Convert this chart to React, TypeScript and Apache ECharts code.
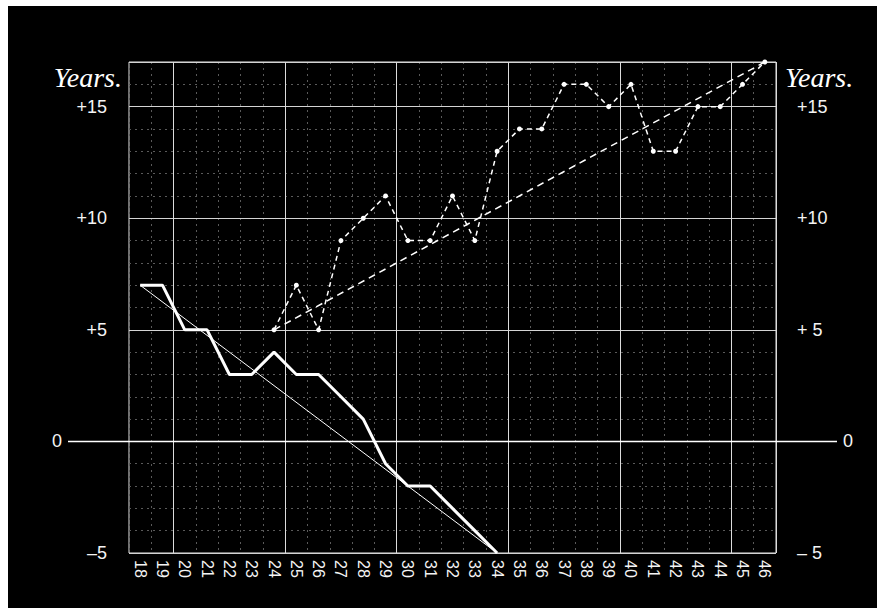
import React, { useEffect, useRef } from "react";
import * as echarts from "echarts";

// Ages (x axis categories)
const yearLabels = [
  "18", "19", "20", "21", "22", "23", "24", "25", "26", "27",
  "28", "29", "30", "31", "32", "33", "34", "35", "36", "37",
  "38", "39", "40", "41", "42", "43", "44", "45", "46",
];

// Heavy solid series
const heavyYears = [18, 19, 20, 21, 22, 23, 24, 25, 26, 27, 28, 29, 30, 31, 32, 33, 34];
const heavyValues = [7, 7, 5, 5, 3, 3, 4, 3, 3, 2, 1, -1, -2, -2, -3, -4, -5];

// Thin straight trend for the heavy series
const heavyTrendYears = [18, 34];
const heavyTrendValues = [7, -5];

// Dotted series with points
const dottedYears = [24, 25, 26, 27, 28, 29, 30, 31, 32, 33, 34, 35, 36, 37, 38, 39, 40, 41, 42, 43, 44, 45, 46];
const dottedValues = [5, 7, 5, 9, 10, 11, 9, 9, 11, 9, 13, 14, 14, 16, 16, 15, 16, 13, 13, 15, 15, 16, 17];

// Dashed straight trend for the dotted series
const dottedTrendYears = [24, 46];
const dottedTrendValues = [5, 17];

// Y tick labels
const leftTickLabels: Record<number, string> = { 15: "+15", 10: "+10", 5: "+5", 0: "{z|0}", [-5]: "–5" };
const rightTickLabels: Record<number, string> = { 15: "+15", 10: "+10", 5: "+ 5", 0: "{z|0}", [-5]: "– 5" };

const Y_MIN = -5;
const Y_MAX = 17;
const X_MIN = 17.5;
const X_MAX = 46.5;

const FONT = "Liberation Sans";

export default function App() {
  const ref = useRef<HTMLDivElement>(null);

  useEffect(() => {
    if (!ref.current) return;
    const chart = echarts.init(ref.current, undefined, { renderer: "svg" });

    const pairs = (xs: number[], ys: number[]) => xs.map((x, i) => [x, ys[i]]);

    const labelBase = { color: "#f4f4f4", fontSize: 18, fontFamily: FONT };

    chart.setOption({
      animation: false,
      backgroundColor: "#000000",
      grid: {
        left: 121,
        right: 101,
        top: 56,
        bottom: 55,
        show: true,
        borderColor: "#e4e4e4",
        borderWidth: 1,
        backgroundColor: "transparent",
      },
      xAxis: [
        {
          type: "category",
          data: yearLabels,
          boundaryGap: true,
          position: "bottom",
          axisLine: { show: false },
          axisTick: { show: false },
          axisLabel: {
            rotate: -90,
            margin: 7,
            interval: 0,
            hideOverlap: false,
            color: "#f4f4f4",
            fontSize: 16,
            fontFamily: FONT,
          },
          splitLine: {
            show: true,
            interval: (_i: number, v: string) => Number(v) % 5 === 0,
            lineStyle: { color: "#dcdcdc", width: 1 },
          },
          z: 1,
        },
        {
          type: "value",
          position: "top",
          min: X_MIN,
          max: X_MAX,
          interval: 1,
          axisLine: { show: false },
          axisTick: { show: false },
          axisLabel: { show: false },
          splitLine: { show: true, lineStyle: { color: "#5a5a5a", type: [2, 4], width: 1 } },
          z: 0,
        },
      ],
      yAxis: [
        {
          type: "value",
          position: "left",
          min: Y_MIN,
          max: Y_MAX,
          interval: 5,
          axisLine: { show: false },
          axisTick: { show: false },
          axisLabel: {
            ...labelBase,
            margin: 22,
            showMaxLabel: false,
            formatter: (v: number) => leftTickLabels[v] ?? "",
            rich: { z: { ...labelBase, padding: [0, 45, 0, 0] } },
          },
          splitLine: { show: true, lineStyle: { color: "#d4d4d4", width: 1 } },
          z: 1,
        },
        {
          type: "value",
          position: "right",
          min: Y_MIN,
          max: Y_MAX,
          interval: 5,
          axisLine: { show: false },
          axisTick: { show: false },
          axisLabel: {
            ...labelBase,
            margin: 21,
            showMaxLabel: false,
            formatter: (v: number) => rightTickLabels[v] ?? "",
            rich: { z: { ...labelBase, padding: [0, 0, 0, 46] } },
          },
          splitLine: { show: false },
          z: 1,
        },
        {
          type: "value",
          position: "left",
          min: Y_MIN,
          max: Y_MAX,
          interval: 1,
          axisLine: { show: false },
          axisTick: { show: false },
          axisLabel: { show: false },
          splitLine: { show: true, lineStyle: { color: "#5a5a5a", type: [2, 4], width: 1 } },
          z: 0,
        },
      ],
      series: [
        {
          type: "line",
          name: "heavy",
          xAxisIndex: 1,
          yAxisIndex: 0,
          data: pairs(heavyYears, heavyValues),
          symbol: "none",
          lineStyle: { color: "#ffffff", width: 3 },
          z: 4,
        },
        {
          type: "line",
          name: "heavyTrend",
          xAxisIndex: 1,
          yAxisIndex: 0,
          data: pairs(heavyTrendYears, heavyTrendValues),
          symbol: "none",
          lineStyle: { color: "#ffffff", width: 1 },
          z: 3,
        },
        {
          type: "line",
          name: "dotted",
          xAxisIndex: 1,
          yAxisIndex: 0,
          data: pairs(dottedYears, dottedValues),
          symbol: "circle",
          symbolSize: 5,
          itemStyle: { color: "#ffffff", borderWidth: 0 },
          lineStyle: { color: "#ffffff", width: 1.5, type: [5, 4] },
          z: 4,
        },
        {
          type: "line",
          name: "dottedTrend",
          xAxisIndex: 1,
          yAxisIndex: 0,
          data: pairs(dottedTrendYears, dottedTrendValues),
          symbol: "none",
          lineStyle: { color: "#ffffff", width: 1.5, type: [7, 5] },
          z: 3,
        },
      ],
    });

    const y0 = chart.convertToPixel({ yAxisIndex: 0 }, 0) as number;
    const yTop = chart.convertToPixel({ yAxisIndex: 0 }, Y_MAX) as number;
    const xl = chart.convertToPixel({ xAxisIndex: 1 }, X_MIN) as number;
    const xr = chart.convertToPixel({ xAxisIndex: 1 }, X_MAX) as number;

    chart.setOption({
      graphic: [
        {
          type: "line",
          z: 2,
          shape: { x1: xl - 61, y1: y0, x2: xr + 61, y2: y0 },
          style: { stroke: "#ffffff", lineWidth: 1.5 },
        },
        {
          type: "text",
          x: xl - 7,
          y: yTop + 15.5,
          style: {
            text: "Years.",
            fill: "#ffffff",
            font: 'italic 28px "Liberation Serif"',
            align: "right",
            verticalAlign: "middle",
          },
        },
        {
          type: "text",
          x: xr + 9,
          y: yTop + 15.5,
          style: {
            text: "Years.",
            fill: "#ffffff",
            font: 'italic 28px "Liberation Serif"',
            align: "left",
            verticalAlign: "middle",
          },
        },
      ],
    });

    return () => chart.dispose();
  }, []);

  return (
    <div
      ref={ref}
      style={{ position: "absolute", left: 8, top: 6, width: 869, height: 602, background: "#000" }}
    />
  );
}
